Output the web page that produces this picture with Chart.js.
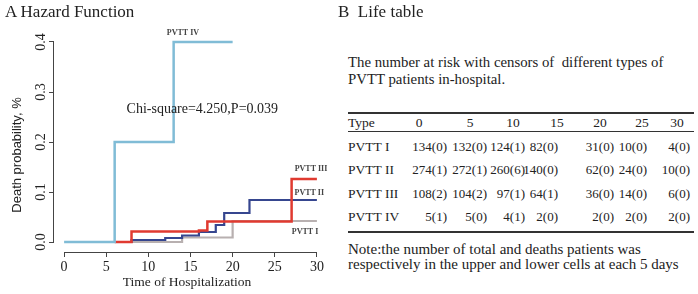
<!DOCTYPE html>
<html>
<head>
<meta charset="utf-8">
<script src="https://cdn.jsdelivr.net/npm/chart.js@4/dist/chart.umd.min.js"></script>
<style>
  html, body { margin:0; padding:0; background:#fff; }
  body { width:698px; height:294px; position:relative; overflow:hidden; font-family:"Liberation Serif", serif; color:#222; }
  #wrap { position:absolute; left:0; top:0; width:340px; height:294px; }
  .t { position:absolute; white-space:nowrap; line-height:1; }
  .rule { position:absolute; left:348px; width:346px; background:#333; }
</style>
</head>
<body>
<div id="wrap"><canvas id="c" width="340" height="294"></canvas></div>
<div class="t" style="left:5px; top:3px; font-size:17px;">A Hazard Function</div>
<div id="right"></div>
<script>
// ---------- data ----------
const xTicks = [0, 5, 10, 15, 20, 25, 30];
const yTicks = [0, 0.1, 0.2, 0.3, 0.4];
const seriesNames = ["PVTT IV", "PVTT III", "PVTT II", "PVTT I"];
const pvtt4X = [0, 6, 13, 20];
const pvtt4Y = [0, 0.2, 0.4, 0.4];
const pvtt3X = [6, 8, 16, 17, 27, 30];
const pvtt3Y = [0, 0.021, 0.023, 0.041, 0.126, 0.126];
const pvtt2X = [6, 8, 12, 14, 16, 18, 19, 22, 30];
const pvtt2Y = [0, 0.004, 0.008, 0.013, 0.02, 0.034, 0.058, 0.084, 0.084];
const pvtt1X = [6, 14, 20, 30];
const pvtt1Y = [0, 0.009, 0.042, 0.042];
const statText = "Chi-square=4.250,P=0.039";

// life table
const lifeHeader = ["Type", "0", "5", "10", "15", "20", "25", "30"];
const lifeTypes = ["PVTT I", "PVTT II", "PVTT III", "PVTT IV"];
const lifeI   = ["134(0)", "132(0)", "124(1)", "82(0)", "31(0)", "10(0)", "4(0)"];
const lifeII  = ["274(1)", "272(1)", "260(6)", "140(0)", "62(0)", "24(0)", "10(0)"];
const lifeIII = ["108(2)", "104(2)", "97(1)", "64(1)", "36(0)", "14(0)", "6(0)"];
const lifeIV  = ["5(1)", "5(0)", "4(1)", "2(0)", "2(0)", "2(0)", "2(0)"];

// ---------- styles / layout ----------
const colors = ["#80bcd6", "#e03a30", "#36468f", "#b8b0b0"];
const widths = [2.5, 2.5, 2.2, 2.2];
const labelPos = [[14.1, 0.418], [29.3, 0.146], [29.1, 0.098], [28.6, 0.021]];
const statPos = [16.4, 0.266];

const pts = (xs, ys) => xs.map((x, i) => ({ x: x, y: ys[i] }));
const allX = [pvtt4X, pvtt3X, pvtt2X, pvtt1X];
const allY = [pvtt4Y, pvtt3Y, pvtt2Y, pvtt1Y];

const serif = '"Liberation Serif", "Times New Roman", serif';

const decor = {
  id: 'decor',
  afterDatasetsDraw(chart) {
    const ctx = chart.ctx;
    const xs = chart.scales.x, ys = chart.scales.y;
    const ca = chart.chartArea;
    ctx.save();
    // R-style axis lines spanning first..last tick
    ctx.strokeStyle = '#444';
    ctx.lineWidth = 1;
    ctx.beginPath();
    ctx.moveTo(xs.getPixelForValue(xTicks[0]), ca.bottom + 0.5);
    ctx.lineTo(xs.getPixelForValue(xTicks[xTicks.length - 1]), ca.bottom + 0.5);
    ctx.moveTo(ca.left - 0.5, ys.getPixelForValue(yTicks[0]));
    ctx.lineTo(ca.left - 0.5, ys.getPixelForValue(yTicks[yTicks.length - 1]));
    ctx.stroke();
    // rotated y tick labels
    ctx.fillStyle = '#222';
    ctx.font = '14px ' + serif;
    ctx.textAlign = 'center';
    ctx.textBaseline = 'middle';
    yTicks.forEach(v => {
      ctx.save();
      ctx.translate(ca.left - 13, ys.getPixelForValue(v));
      ctx.rotate(-Math.PI / 2);
      ctx.fillText(v.toFixed(1), 0, 0);
      ctx.restore();
    });
    // axis titles
    ctx.save();
    ctx.font = '13px "Liberation Sans", Arial, sans-serif';
    ctx.translate(17, 155);
    ctx.rotate(-Math.PI / 2);
    ctx.fillText('Death probability, %', 0, 0);
    ctx.restore();
    ctx.font = '13.5px ' + serif;
    ctx.fillText('Time of Hospitalization', 187, 282);
    // test statistic
    ctx.font = '14px ' + serif;
    ctx.fillText(statText, xs.getPixelForValue(statPos[0]), ys.getPixelForValue(statPos[1]));
    // series labels
    ctx.font = 'bold 8px ' + serif;
    ctx.fillStyle = '#444';
    seriesNames.forEach((n, i) => {
      ctx.fillText(n, xs.getPixelForValue(labelPos[i][0]), ys.getPixelForValue(labelPos[i][1]));
    });
    ctx.restore();
  }
};

new Chart(document.getElementById('c'), {
  type: 'line',
  data: {
    datasets: seriesNames.map((n, i) => ({
      label: n,
      data: pts(allX[i], allY[i]),
      borderColor: colors[i],
      backgroundColor: colors[i],
      borderWidth: widths[i],
      stepped: true,
      pointRadius: 0,
      fill: false,
      borderCapStyle: 'butt',
      borderJoinStyle: 'miter'
    }))
  },
  options: {
    responsive: false,
    animation: false,
    events: [],
    layout: { padding: { top: 34, right: 13, left: 0, bottom: 0 } },
    plugins: { legend: { display: false }, title: { display: false }, tooltip: { enabled: false } },
    scales: {
      x: {
        type: 'linear',
        min: -1.2, max: 31.2,
        afterBuildTicks: s => { s.ticks = xTicks.map(v => ({ value: v })); },
        afterFit: s => { s.height = 42; },
        grid: { display: true, drawOnChartArea: false, drawTicks: true, tickLength: 5, color: '#444', lineWidth: 1 },
        border: { display: false },
        ticks: { font: { family: serif, size: 14 }, color: '#222', padding: 2, maxRotation: 0, autoSkip: false,
                 callback: v => String(v) }
      },
      y: {
        type: 'linear',
        min: -0.02, max: 0.416,
        afterBuildTicks: s => { s.ticks = yTicks.map(v => ({ value: v })); },
        afterFit: s => { s.width = 54; },
        grid: { display: true, drawOnChartArea: false, drawTicks: true, tickLength: 5, color: '#444', lineWidth: 1 },
        border: { display: false },
        ticks: { color: 'rgba(0,0,0,0)', font: { family: serif, size: 14 }, callback: v => v.toFixed(1) }
      }
    }
  },
  plugins: [decor]
});

// ---------- right panel (life table) ----------
const right = document.getElementById('right');
function addText(txt, left, top, size, align, extra) {
  const d = document.createElement('div');
  d.className = 't';
  d.textContent = txt;
  d.style.fontSize = size + 'px';
  d.style.top = top + 'px';
  if (align === 'right') { d.style.right = (698 - left) + 'px'; }
  else if (align === 'center') { d.style.left = (left - 40) + 'px'; d.style.width = '80px'; d.style.textAlign = 'center'; }
  else { d.style.left = left + 'px'; }
  if (extra) Object.assign(d.style, extra);
  right.appendChild(d);
}
function addRule(top, h) {
  const r = document.createElement('div');
  r.className = 'rule';
  r.style.top = top + 'px';
  r.style.height = h + 'px';
  right.appendChild(r);
}
addText('B  Life table', 338, 3, 17, 'left', { whiteSpace: 'pre' });
addText('The number at risk with censors of  different types of', 348, 55, 14.8, 'left', { whiteSpace: 'pre' });
addText('PVTT patients in-hospital.', 348, 72, 14.8, 'left');
addRule(112, 2);
const headerCenters = [419, 470, 513, 557, 600, 642, 677];
const colRights = [447, 487, 525, 558, 614, 647, 690];
const rowTops = [139.5, 162.5, 186.5, 209.5];
addText(lifeHeader[0], 348, 115.5, 13.5, 'left');
lifeHeader.slice(1).forEach((h, j) => addText(h, headerCenters[j], 115.5, 13.5, 'center'));
addRule(131, 1);
const lifeRows = [lifeI, lifeII, lifeIII, lifeIV];
lifeRows.forEach((row, i) => {
  addText(lifeTypes[i], 348, rowTops[i], 13.5, 'left');
  row.forEach((v, j) => addText(v, colRights[j], rowTops[i], 13, 'right'));
});
addRule(231, 2);
addText('Note:the number of total and deaths patients was', 348, 242, 15, 'left');
addText('respectively in the upper and lower cells at each 5 days', 348, 257, 15, 'left');
</script>
</body>
</html>
